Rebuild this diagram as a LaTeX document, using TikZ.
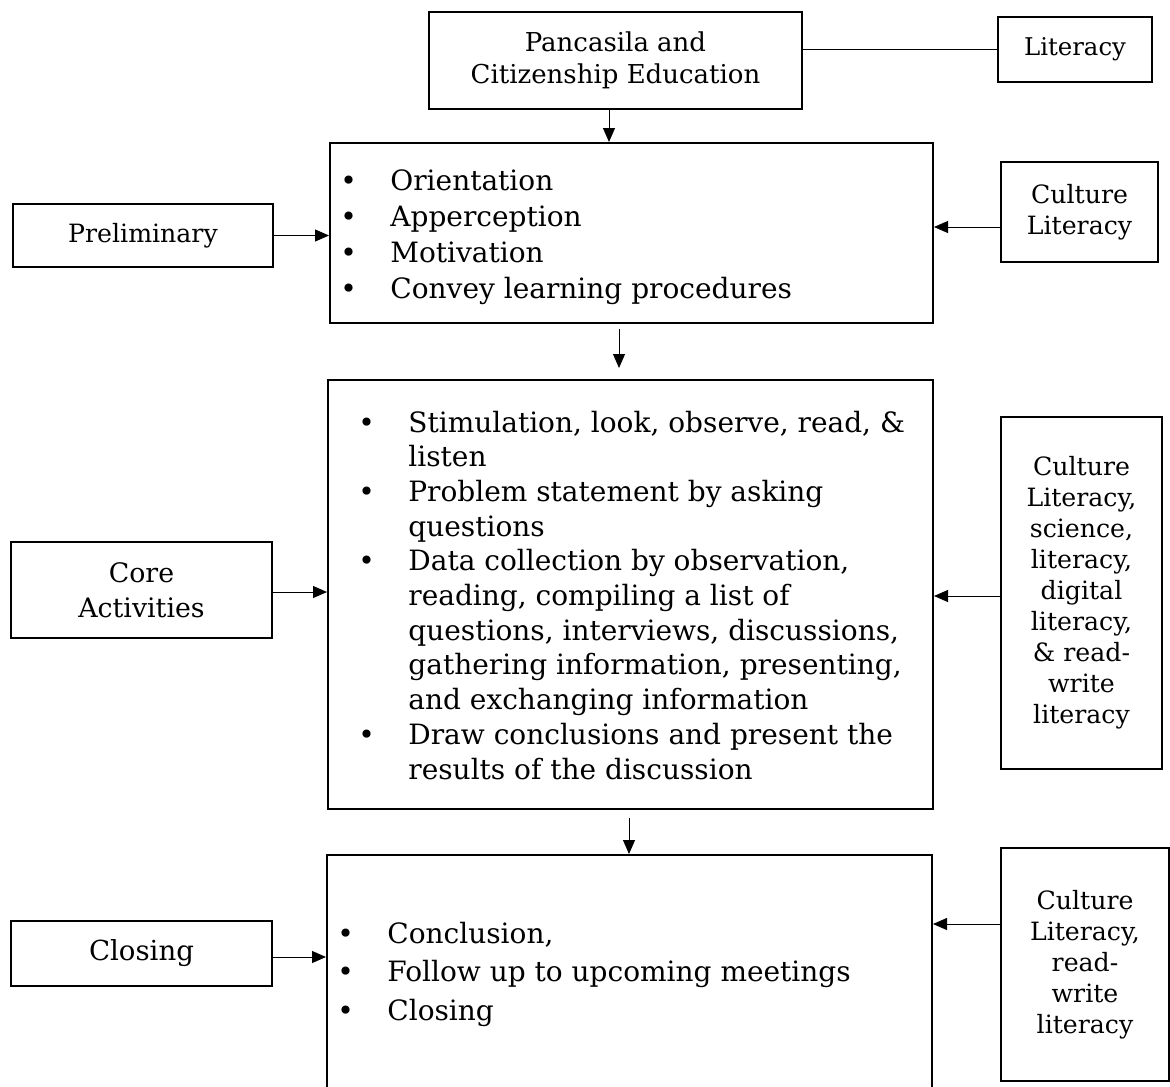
\documentclass[tikz,border=0pt]{standalone}
\usepackage{fontspec}
\setmainfont{DejaVu Serif}
\usetikzlibrary{arrows.meta,calc}
\newcommand\bitem{\makebox[25pt][l]{\textbullet}}
\newcommand\bcont{\hspace*{25pt}}
\begin{document}
\begin{tikzpicture}[x=0.5pt,y=-0.5pt,
  box/.style={draw, line width=1pt, inner sep=0pt, align=center},
  arr/.style={line width=0.5pt, -{Triangle[length=7pt,width=6pt]}},
  lin/.style={line width=0.5pt},
  sidef/.style={font=\fontsize{12.6}{15.5}\selectfont},
  list/.style={anchor=base west, align=left, inner sep=0pt}]
\useasboundingbox (0,0) rectangle (1170,1086);
\clip (0,0) rectangle (1170,1086);
% top
\node[box, font=\fontsize{13}{16}\selectfont, minimum width=186.5pt, minimum height=48.5pt] (P) at (615.5,60.5) {Pancasila and\\Citizenship Education};
\node[box, font=\fontsize{12.2}{15}\selectfont, minimum width=77pt, minimum height=32.5pt] (Lit) at (1075,49.5) {Literacy};
\draw[lin] (P.east |- Lit.west) -- (Lit.west);
% row 1
\node[box, minimum width=301.5pt, minimum height=90pt] (B1) at (631.5,233) {};
\node[list, font=\fontsize{14}{18}\selectfont] (L1) at (340,298) {\bitem Orientation\\ \bitem Apperception\\ \bitem Motivation\\ \bitem Convey learning procedures};
\node[box, font=\fontsize{12.6}{16}\selectfont, minimum width=130pt, minimum height=31.5pt] (Pre) at (143,235.5) {Preliminary};
\node[box, sidef, minimum width=78.5pt, minimum height=50pt] (C1) at (1079.5,212) {Culture\\Literacy};
\coordinate (x609) at (609,0);
\draw[arr] (P.south -| x609) -- (B1.north -| x609);
\draw[arr] (Pre.east) -- (Pre.east -| B1.west);
\draw[arr] ([yshift=-7.5pt]C1.west) -- ([yshift=-7.5pt]C1.west -| B1.east);
% row 2
\node[box, minimum width=302.5pt, minimum height=214.5pt] (B2) at (630.5,594.5) {};
\node[list, font=\fontsize{14}{17.35}\selectfont] (L2) at (358,779) {\bitem Stimulation, look, observe, read, \&\\ \bcont listen\\ \bitem Problem statement by asking\\ \bcont questions\\ \bitem Data collection by observation,\\ \bcont reading, compiling a list of\\ \bcont questions, interviews, discussions,\\ \bcont gathering information, presenting,\\ \bcont and exchanging information\\ \bitem Draw conclusions and present the\\ \bcont results of the discussion};
\node[box, font=\fontsize{13.4}{17.5}\selectfont, minimum width=130.5pt, minimum height=48pt] (Core) at (141.5,590) {Core\\Activities};
\node[box, sidef, minimum width=80.5pt, minimum height=176pt] (C2) at (1081.5,593) {Culture\\Literacy,\\science,\\literacy,\\digital\\literacy,\\\& read-\\write\\literacy};
\coordinate (x619) at (619,0);
\draw[arr, shorten <=2.5pt, shorten >=5.5pt] (B1.south -| x619) -- (B2.north -| x619);
\draw[arr] ([yshift=-1pt]Core.east) -- ([yshift=-1pt]Core.east -| B2.west);
\draw[arr] ([yshift=-1.5pt]C2.west) -- ([yshift=-1.5pt]C2.west -| B2.east);
% row 3
\node[box, minimum width=302.5pt, minimum height=130pt] (B3) at (629.5,985) {};
\node[list, font=\fontsize{14}{19.25}\selectfont] (L3) at (337,1020) {\bitem Conclusion,\\ \bitem Follow up to upcoming meetings\\ \bitem Closing};
\node[box, font=\fontsize{13.8}{17}\selectfont, minimum width=130.5pt, minimum height=32.5pt] (Clo) at (141.5,953.5) {Closing};
\node[box, sidef, minimum width=84pt, minimum height=116.5pt] (C3) at (1085,964.5) {Culture\\Literacy,\\read-\\write\\literacy};
\coordinate (x629) at (629,0);
\draw[arr, shorten <=4pt] (B2.south -| x629) -- (B3.north -| x629);
\draw[arr] ([yshift=-1.75pt]Clo.east) -- ([yshift=-1.75pt]Clo.east -| B3.west);
\draw[arr] ([yshift=20.25pt]C3.west) -- ([yshift=20.25pt]C3.west -| B3.east);
\end{tikzpicture}
\end{document}
